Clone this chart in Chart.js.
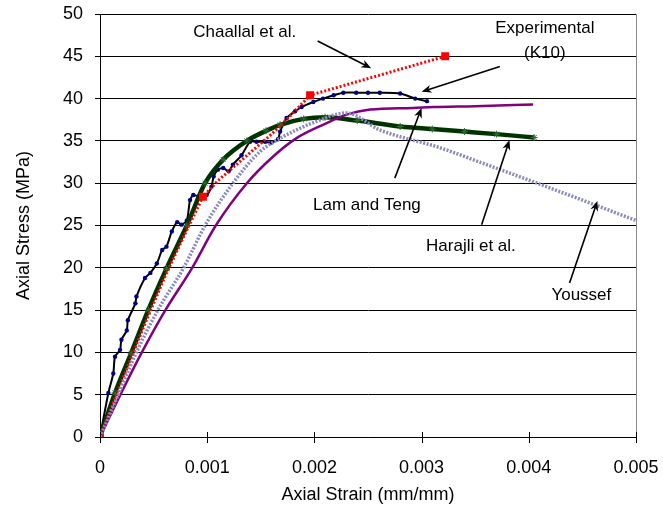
<!DOCTYPE html>
<html>
<head>
<meta charset="utf-8">
<script src="https://cdn.jsdelivr.net/npm/chart.js@4.4.1/dist/chart.umd.min.js"></script>
<style>
  html, body { margin: 0; padding: 0; background: #fff; }
  #wrap { width: 663px; height: 518px; }
</style>
</head>
<body>
<div id="wrap"><canvas id="stressChart" width="663" height="518"></canvas></div>
<script>
// values (strain in mm/mm, stress in MPa)
const expStrain = [0, 0.000078, 0.000124, 0.00014, 0.000187, 0.0002, 0.00025, 0.00026, 0.00033, 0.00034, 0.00042, 0.00047, 0.00053, 0.00058, 0.00062, 0.00067, 0.00072, 0.00076, 0.00081, 0.00084, 0.00087, 0.00093, 0.000995, 0.00104, 0.00106, 0.0011, 0.00115, 0.0012, 0.00124, 0.00132, 0.0014, 0.00146, 0.00154, 0.0016, 0.00166, 0.00168, 0.00174, 0.00182, 0.00188, 0.00199, 0.00208, 0.00218, 0.00227, 0.00239, 0.0025, 0.00261, 0.0028, 0.00294, 0.00305];
const expStress = [0, 5.2, 7.5, 9.5, 10.3, 11.5, 12.6, 13.8, 15.8, 16.6, 18.8, 19.4, 20.5, 22.1, 22.5, 24.3, 25.4, 25.1, 25.6, 28.0, 28.6, 28.4, 28.6, 29.6, 30.8, 31.6, 31.8, 31.4, 32.2, 33.3, 34.9, 34.9, 34.9, 34.8, 35.2, 36.1, 37.7, 38.5, 39.0, 39.6, 40.0, 40.4, 40.7, 40.7, 40.7, 40.7, 40.6, 40.0, 39.7];

const chaStrain = [0, 0.0002, 0.0004, 0.0006, 0.0008, 0.00096, 0.0011, 0.0012, 0.0013, 0.0014, 0.0015, 0.0016, 0.0017, 0.0018, 0.0019, 0.00196, 0.00322];
const chaStress = [0, 6.5, 12.8, 18.8, 24.2, 28.4, 30.3, 31.4, 32.5, 33.6, 34.7, 35.8, 37.0, 38.3, 39.6, 40.4, 45.0];
const chaMarked = [0, 5, 15, 16];

const ltStrain = [0, 0.00019, 0.00039, 0.00061, 0.00086, 0.00108, 0.00137, 0.00161, 0.00183, 0.00208, 0.0023, 0.00252, 0.00292, 0.00311, 0.0035, 0.00404];
const ltStress = [0, 5, 10, 15, 20, 25, 30, 33.1, 35.3, 36.9, 38.1, 38.7, 38.9, 39.0, 39.1, 39.3];

const harStrain = [0, 0.00014, 0.00029, 0.00045, 0.00062, 0.00081, 0.00098, 0.00115, 0.00137, 0.00155, 0.00168, 0.0019, 0.0021, 0.0024, 0.0028, 0.0031, 0.0034, 0.0037, 0.00405];
const harStress = [0, 5.2, 9.9, 15, 19.9, 25, 30, 32.8, 35, 36.2, 36.9, 37.6, 37.8, 37.4, 36.7, 36.4, 36.1, 35.8, 35.4];

const youStrain = [0, 0.00017, 0.00034, 0.00054, 0.00078, 0.00098, 0.00124, 0.00149, 0.00168, 0.002, 0.0023, 0.00261, 0.00317, 0.00354, 0.0041, 0.005];
const youStress = [0, 5, 10, 15, 20, 25, 30, 33.7, 35.3, 37.2, 38.3, 36.3, 34.2, 32.5, 29.9, 25.6];

const strainTicks = [0, 0.001, 0.002, 0.003, 0.004, 0.005];
const stressTicks = [0, 5, 10, 15, 20, 25, 30, 35, 40, 45, 50];

// callouts: label text, text position, arrow start, arrow end (data units)
const callouts = [
  { text: ['Chaallal et al.'], at: [0.00135, 47.8], from: [0.00203, 46.8], to: [0.00253, 43.6] },
  { text: ['Experimental', '(K10)'], at: [0.00415, 48.3], from: [0.00373, 43.8], to: [0.00300, 40.8] },
  { text: ['Lam and Teng'], at: [0.00249, 27.4], from: [0.00275, 30.6], to: [0.00300, 38.9] },
  { text: ['Harajli et al.'], at: [0.00346, 22.5], from: [0.00356, 25.1], to: [0.00382, 35.1] },
  { text: ['Youssef'], at: [0.00449, 16.7], from: [0.00438, 18.2], to: [0.00464, 27.9] }
];

const FONT = "'Liberation Sans', Arial, sans-serif";
const pts = (xs, ys) => xs.map((x, i) => ({ x: x, y: ys[i] }));

const decorations = {
  id: 'decorations',
  afterDatasetsDraw(chart) {
    const { ctx, chartArea: a, scales: { x, y } } = chart;
    ctx.save();
    // right frame line
    ctx.strokeStyle = '#8c8c8c';
    ctx.lineWidth = 1;
    ctx.beginPath();
    ctx.moveTo(Math.round(a.right) + 0.5, a.top);
    ctx.lineTo(Math.round(a.right) + 0.5, a.bottom);
    ctx.stroke();
    // x tick marks crossing the axis
    ctx.strokeStyle = '#000';
    strainTicks.forEach(t => {
      const px = Math.round(x.getPixelForValue(t)) + 0.5;
      ctx.beginPath();
      ctx.moveTo(px, a.bottom - 5);
      ctx.lineTo(px, a.bottom + 6);
      ctx.stroke();
    });
    // callout labels and arrows
    ctx.font = '17px ' + FONT;
    ctx.fillStyle = '#000';
    ctx.textAlign = 'center';
    ctx.textBaseline = 'middle';
    callouts.forEach(c => {
      c.text.forEach((line, i) => {
        ctx.fillText(line, x.getPixelForValue(c.at[0]), y.getPixelForValue(c.at[1]) + i * 25);
      });
      const x0 = x.getPixelForValue(c.from[0]), y0 = y.getPixelForValue(c.from[1]);
      const x1 = x.getPixelForValue(c.to[0]), y1 = y.getPixelForValue(c.to[1]);
      const ang = Math.atan2(y1 - y0, x1 - x0);
      ctx.lineWidth = 1.6;
      ctx.beginPath();
      ctx.moveTo(x0, y0);
      ctx.lineTo(x1 - 6 * Math.cos(ang), y1 - 6 * Math.sin(ang));
      ctx.stroke();
      ctx.beginPath();
      ctx.moveTo(x1, y1);
      ctx.lineTo(x1 - 10 * Math.cos(ang) + 4 * Math.sin(ang), y1 - 10 * Math.sin(ang) - 4 * Math.cos(ang));
      ctx.lineTo(x1 - 7 * Math.cos(ang), y1 - 7 * Math.sin(ang));
      ctx.lineTo(x1 - 10 * Math.cos(ang) - 4 * Math.sin(ang), y1 - 10 * Math.sin(ang) + 4 * Math.cos(ang));
      ctx.closePath();
      ctx.fill();
    });
    ctx.restore();
  }
};

new Chart(document.getElementById('stressChart'), {
  type: 'scatter',
  data: {
    datasets: [
      {
        label: 'Youssef',
        data: pts(youStrain, youStress),
        showLine: true,
        borderColor: '#8a8abc',
        borderWidth: 3.5,
        borderDash: [2, 1.5],
        pointRadius: 0,
        cubicInterpolationMode: 'monotone'
      },
      {
        label: 'Lam and Teng',
        data: pts(ltStrain, ltStress),
        showLine: true,
        borderColor: '#800080',
        borderWidth: 2.5,
        pointRadius: 0,
        cubicInterpolationMode: 'monotone'
      },
      {
        label: 'Chaallal et al.',
        data: pts(chaStrain, chaStress),
        showLine: true,
        borderColor: '#ff0000',
        borderWidth: 3,
        borderDash: [2, 2],
        pointStyle: 'rect',
        pointRadius: chaStrain.map((v, i) => chaMarked.includes(i) ? 3.5 : 0),
        backgroundColor: '#ff0000',
        pointBorderColor: '#ff0000',
        tension: 0
      },
      {
        label: 'Harajli et al.',
        data: pts(harStrain, harStress),
        showLine: true,
        borderColor: '#003300',
        borderWidth: 4.5,
        pointStyle: 'star',
        pointRadius: 3.5,
        pointBorderColor: '#2d6b2d',
        pointBorderWidth: 1,
        cubicInterpolationMode: 'monotone'
      },
      {
        label: 'Experimental (K10)',
        data: pts(expStrain, expStress),
        showLine: true,
        borderColor: '#000000',
        borderWidth: 2,
        pointStyle: 'circle',
        pointRadius: 2.2,
        backgroundColor: '#000080',
        pointBorderColor: '#000080',
        pointBorderWidth: 0,
        tension: 0.25
      }
    ]
  },
  options: {
    responsive: false,
    animation: false,
    devicePixelRatio: 1,
    layout: { padding: { top: 14, right: 27, left: 0, bottom: 0 } },
    plugins: { legend: { display: false }, tooltip: { enabled: false } },
    scales: {
      x: {
        type: 'linear',
        min: 0,
        max: 0.005,
        afterBuildTicks: s => { s.ticks = strainTicks.map(v => ({ value: v })); },
        afterFit: s => { s.height = 81; s.paddingLeft = 0; s.paddingRight = 0; },
        grid: { display: false },
        border: { display: true, color: '#000', width: 1 },
        ticks: {
          padding: 12,
          maxRotation: 0,
          color: '#000',
          font: { family: FONT, size: 18 },
          callback: v => v === 0 ? '0' : v.toFixed(3)
        },
        title: {
          display: true,
          text: 'Axial Strain (mm/mm)',
          color: '#000',
          font: { family: FONT, size: 18 },
          padding: { top: 0, bottom: 12 }
        }
      },
      y: {
        type: 'linear',
        min: 0,
        max: 50,
        afterBuildTicks: s => { s.ticks = stressTicks.map(v => ({ value: v })); },
        afterFit: s => { s.width = 100; s.paddingTop = 0; s.paddingBottom = 0; },
        grid: { color: '#000', lineWidth: 1, tickLength: 5, tickColor: '#000' },
        border: { display: true, color: '#000', width: 1 },
        ticks: {
          padding: 12,
          color: '#000',
          font: { family: FONT, size: 18 }
        },
        title: {
          display: true,
          text: 'Axial Stress (MPa)',
          color: '#000',
          font: { family: FONT, size: 18 },
          padding: { top: 13, bottom: 0 }
        }
      }
    }
  },
  plugins: [decorations]
});
</script>
</body>
</html>
